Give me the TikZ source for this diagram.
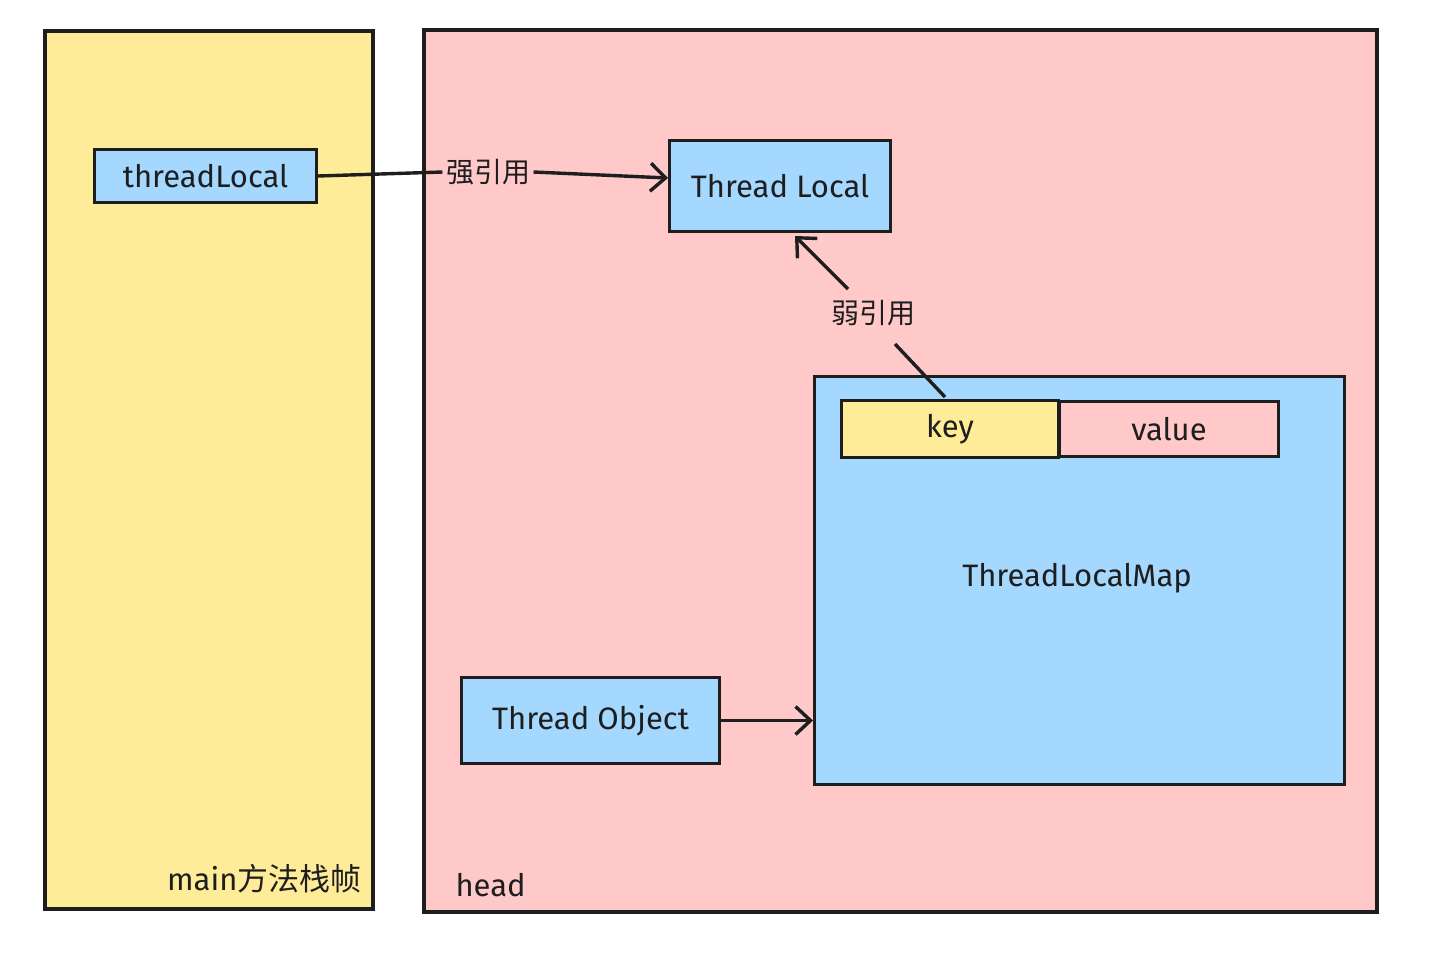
\documentclass[tikz,border=0pt]{standalone}
\usepackage{fontspec}
\setmainfont{Fira Sans}
\newfontfamily\cjk{Noto Sans CJK SC}
\usetikzlibrary{arrows.meta}
\definecolor{yel}{HTML}{FFEC99}
\definecolor{pnk}{HTML}{FFC9C9}
\definecolor{blu}{HTML}{A5D8FF}
\definecolor{ink}{HTML}{1E1E1E}
\begin{document}
\begin{tikzpicture}[x=1pt,y=-1pt,
  frame/.style={draw=ink,line width=3.2pt},
  box/.style={draw=ink,line width=3pt,fill=blu},
  lbl/.style={font=\fontsize{31}{36}\selectfont,text=ink},
  clbl/.style={font=\cjk\fontsize{28}{32}\selectfont,text=ink},
  conn/.style={draw=ink,line width=3.4pt,-{Straight Barb[length=15pt,width=28pt,line width=3.4pt]}},
  plain/.style={draw=ink,line width=3.4pt}]
\useasboundingbox (0,0) rectangle (1440,962);
\fill[white] (0,0) rectangle (1440,962);
% frames
\draw[frame,fill=yel] (45,31) rectangle (373,909);
\draw[frame,fill=pnk] (424,30) rectangle (1377,912);
% boxes
\node[box,minimum width=222pt,minimum height=53pt,anchor=north west,lbl] (tl) at (93,148) {threadLocal};
\node[box,minimum width=221pt,minimum height=91pt,anchor=north west,lbl] (TL) at (668,139) {Thread Local};
\node[box,minimum width=530pt,minimum height=408pt,anchor=north west,line width=3.4pt] (map) at (813,375) {};
\node[lbl] (maplbl) at (1077,578) {ThreadLocalMap};
\node[draw=ink,line width=3pt,fill=yel,minimum width=217pt,minimum height=57pt,anchor=north west,lbl] (key) at (840,399) {key};
\node[draw=ink,line width=3pt,fill=pnk,minimum width=219pt,minimum height=55pt,anchor=north west,lbl] (val) at (1058,400) {value};
\node[box,minimum width=258pt,minimum height=86pt,anchor=north west,lbl] (to) at (460,676) {Thread Object};
% labels
\node[clbl] (strong) at (488,172) {强引用};
\node[clbl] (weak) at (873,313) {弱引用};
\node[lbl,anchor=east] (main) at (365,879) {main\cjk 方法栈帧};
\node[lbl,anchor=west] (head) at (452,885) {head};
% connectors
\draw[plain] (tl.east) -- (strong.west);
\draw[conn] (strong.east) -- ([yshift=8pt]TL.west);
\coordinate (kt) at (945,397);
\coordinate (wlow) at (895,344);
\coordinate (wup) at (848,289);
\coordinate (wend) at (795,236);
\draw[plain] (kt) -- (wlow);
\draw[conn] (wup) -- (wend);
\draw[conn] (to.east) -- (map.west |- to.east);
\end{tikzpicture}
\end{document}
